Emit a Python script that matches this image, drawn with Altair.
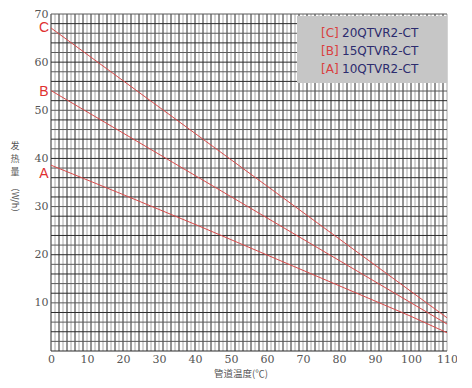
import altair as alt
import pandas as pd

# ---- data ----
temps_c = [0, 110]
heat_c = [67.1, 6.9]          # [C] 20QTVR2-CT
temps_b = [0, 110]
heat_b = [54.1, 5.6]          # [B] 15QTVR2-CT
temps_a = [0, 20, 41, 100, 110]
heat_a = [38.6, 32.5, 26.0, 7.2, 3.8]   # [A] 10QTVR2-CT

series_tags = ["[C]", "[B]", "[A]"]
series_models = ["20QTVR2-CT", "15QTVR2-CT", "10QTVR2-CT"]
series_letters = ["C", "B", "A"]
letter_levels = [67.0, 53.8, 36.8]

x_ticks = [0, 10, 20, 30, 40, 50, 60, 70, 80, 90, 100, 110]
y_ticks = [10, 20, 30, 40, 50, 60, 70]

W, H = 396, 337
XD, YD = [0, 110], [0, 70]
RED = "#d94a4a"
NAVY = "#2c2c6e"

xs = alt.Scale(domain=XD, nice=False, zero=False)
ys = alt.Scale(domain=YD, nice=False, zero=False)

xaxis = alt.Axis(values=x_ticks, title=None, grid=False, domain=False, ticks=False,
                 labelFont="DejaVu Serif", labelFontSize=11, labelColor="#555555",
                 labelPadding=2, labelFlush=False)
yaxis = alt.Axis(values=y_ticks, title=None, grid=False, domain=False, ticks=False,
                 labelFont="DejaVu Serif", labelFontSize=11, labelColor="#555555",
                 labelPadding=3, labelFlush=False)

lines_df = pd.concat([
    pd.DataFrame({"t": temps_c, "q": heat_c, "s": "C"}),
    pd.DataFrame({"t": temps_b, "q": heat_b, "s": "B"}),
    pd.DataFrame({"t": temps_a, "q": heat_a, "s": "A"}),
])

# graph-paper grid: 99 narrow columns, 35 rows (every 2 units)
vgrid = pd.DataFrame({"t": [k * 110 / 99 for k in range(100)],
                      "dark": [k % 2 == 0 for k in range(100)]})
hgrid = pd.DataFrame({"q": [2 * k for k in range(36)],
                      "dark": [k % 2 == 0 for k in range(36)]})

axes = alt.Chart(pd.DataFrame({"t": [0], "q": [0]})).mark_point(opacity=0).encode(
    x=alt.X("t:Q", scale=xs, axis=xaxis),
    y=alt.Y("q:Q", scale=ys, axis=yaxis),
)

vg = alt.Chart(vgrid).mark_rule(strokeWidth=1).encode(
    x=alt.X("t:Q", scale=xs, axis=xaxis),
    color=alt.condition("datum.dark", alt.value("#2b2b2b"), alt.value("#a8a8a8")),
)
hg = alt.Chart(hgrid).mark_rule(strokeWidth=1).encode(
    y=alt.Y("q:Q", scale=ys, axis=yaxis),
    color=alt.condition("datum.dark", alt.value("#2b2b2b"), alt.value("#5a5a5a")),
)

legend_box = alt.Chart(pd.DataFrame({"k": [0]})).mark_rect(color="#c6c6c6").encode(
    x=alt.value(246), x2=alt.value(396), y=alt.value(2), y2=alt.value(69)
)

curves = alt.Chart(lines_df).mark_line(strokeWidth=1, color=RED).encode(
    x=alt.X("t:Q", scale=xs, axis=xaxis), y=alt.Y("q:Q", scale=ys, axis=yaxis),
    detail="s:N"
)

letters_df = pd.DataFrame({"lab": series_letters, "q": letter_levels})
letters = alt.Chart(letters_df).mark_text(
    font="Liberation Sans Narrow, Liberation Sans", fontSize=14, color="#e03030",
    align="center", baseline="middle").encode(
    x=alt.value(-7), y=alt.Y("q:Q", scale=ys, axis=yaxis), text="lab:N")

leg_df = pd.DataFrame({"tag": series_tags, "model": series_models,
                       "row": [0, 1, 2]})
leg_tags = alt.Chart(leg_df).transform_calculate(py="19 + datum.row * 18").mark_text(
    font="DejaVu Sans", fontSize=12, color="#d94040", align="left",
    baseline="middle").encode(x=alt.value(270), y=alt.Y("py:Q", scale=None), text="tag:N")
leg_models = alt.Chart(leg_df).transform_calculate(py="19 + datum.row * 18").mark_text(
    font="DejaVu Sans", fontSize=12, color=NAVY, align="left",
    baseline="middle").encode(x=alt.value(291), y=alt.Y("py:Q", scale=None), text="model:N")

ytitle1 = alt.Chart(pd.DataFrame({"k": [0]})).mark_text(
    text=["发", "热", "量"], font="Noto Sans CJK SC", fontSize=9, lineHeight=13,
    color="#555555", align="center", baseline="top").encode(
    x=alt.value(-36), y=alt.value(128))
ytitle2 = alt.Chart(pd.DataFrame({"k": [0]})).mark_text(
    text="（W/h）", font="Noto Sans CJK SC", fontSize=9, angle=90,
    color="#555555", align="center", baseline="middle").encode(
    x=alt.value(-36), y=alt.value(186))
xtitle = alt.Chart(pd.DataFrame({"k": [0]})).mark_text(
    text="管道温度(℃)", font="Noto Sans CJK SC", fontSize=9.5,
    color="#555555", align="center", baseline="middle").encode(
    x=alt.value(190), y=alt.value(360))

chart = alt.layer(
    axes, vg, hg, legend_box, curves, letters, leg_tags, leg_models,
    ytitle1, ytitle2, xtitle
).properties(
    width=W, height=H,
    autosize=alt.AutoSizeParams(type="none"),
    padding={"left": 43, "top": 6, "right": 10, "bottom": 29},
).configure_view(stroke=None)

chart.save("out.html", embed_options={"renderer": "svg", "actions": False})
